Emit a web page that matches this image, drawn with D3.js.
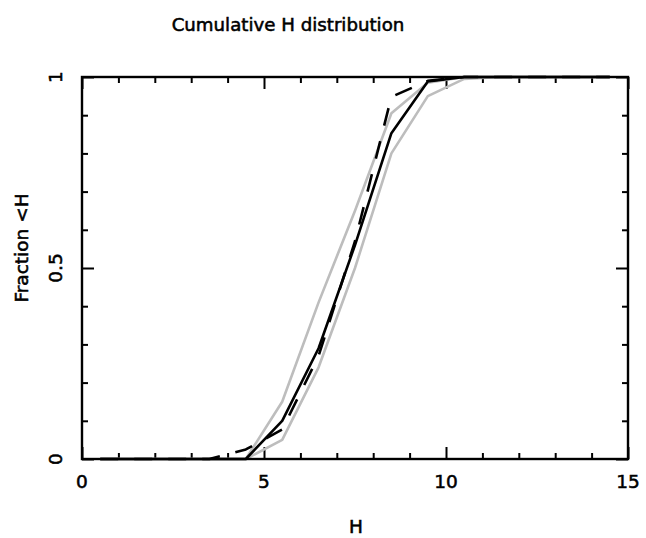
<!DOCTYPE html>
<html>
<head>
<meta charset="utf-8">
<script src="https://cdn.jsdelivr.net/npm/d3@7"></script>
<style>
  html, body { margin: 0; padding: 0; background: #fff; }
  svg { display: block; }
  text { font-family: "DejaVu Sans", sans-serif; fill: #000; stroke: #000; stroke-width: 0.55px; }
</style>
</head>
<body>
<svg id="chart" width="646" height="538"></svg>
<script>
// ---- data ----
const hValues      = [0.5, 1.5, 2.5, 3.5, 4.5, 5.5, 6.5, 7.5, 8.5, 9.5, 10.5, 11.5, 12.5, 13.5, 14.5];
const fracSolid    = [0, 0, 0, 0, 0, 0.10, 0.29, 0.56, 0.853, 0.988, 1, 1, 1, 1, 1];
const fracDashed   = [0, 0, 0, 0, 0.025, 0.077, 0.27, 0.57, 0.948, 0.99, 1, 1, 1, 1, 1];
const fracGrayLow  = [0, 0, 0, 0, 0, 0.15, 0.41, 0.65, 0.905, 0.985, 1, 1, 1, 1, 1];
const fracGrayHigh = [0, 0, 0, 0, 0, 0.05, 0.24, 0.50, 0.80, 0.95, 0.995, 1, 1, 1, 1];
const xMajorTicks  = [0, 5, 10, 15];
const yMajorTicks  = [0, 0.5, 1];
const yTickLabels  = ["0", "0.5", "1"];
const titleText    = "Cumulative H distribution";
const xLabel       = "H";
const yLabel       = "Fraction <H";

// ---- layout ----
const svg = d3.select("#chart");
const L = 82, R = 628, T = 77, B = 459;
const x = d3.scaleLinear().domain([0, 15]).range([L, R]);
const y = d3.scaleLinear().domain([0, 1]).range([B, T]);

const xMinor = d3.range(0, 16, 1).filter(v => v % 5 !== 0);
const yMinor = d3.range(1, 10).map(v => v / 10).filter(v => Math.abs(v - 0.5) > 1e-9);

function styleAxis(g) {
  g.select(".domain").remove();
  g.selectAll(".tick line").attr("stroke", "#000").attr("stroke-width", 2);
  g.selectAll(".tick text").remove();
}

// minor & major ticks, inward, on all four sides
svg.append("g").attr("transform", `translate(0,${B})`)
  .call(d3.axisBottom(x).tickValues(xMinor).tickSize(-6)).call(styleAxis);
svg.append("g").attr("transform", `translate(0,${B})`)
  .call(d3.axisBottom(x).tickValues(xMajorTicks).tickSize(-12)).call(styleAxis);
svg.append("g").attr("transform", `translate(0,${T})`)
  .call(d3.axisTop(x).tickValues(xMinor).tickSize(-6)).call(styleAxis);
svg.append("g").attr("transform", `translate(0,${T})`)
  .call(d3.axisTop(x).tickValues(xMajorTicks).tickSize(-12)).call(styleAxis);
svg.append("g").attr("transform", `translate(${L},0)`)
  .call(d3.axisLeft(y).tickValues(yMinor).tickSize(-6)).call(styleAxis);
svg.append("g").attr("transform", `translate(${L},0)`)
  .call(d3.axisLeft(y).tickValues(yMajorTicks).tickSize(-12)).call(styleAxis);
svg.append("g").attr("transform", `translate(${R},0)`)
  .call(d3.axisRight(y).tickValues(yMinor).tickSize(-6)).call(styleAxis);
svg.append("g").attr("transform", `translate(${R},0)`)
  .call(d3.axisRight(y).tickValues(yMajorTicks).tickSize(-12)).call(styleAxis);

// ---- lines ----
const line = d3.line().x((d, i) => x(hValues[i])).y(d => y(d));
function drawLine(vals, color, dash) {
  const p = svg.append("path").datum(vals)
    .attr("d", line)
    .attr("fill", "none")
    .attr("stroke", color)
    .attr("stroke-width", 2.6)
    .attr("stroke-linejoin", "round");
  if (dash) p.attr("stroke-dasharray", dash);
  return p;
}
drawLine(fracGrayLow, "#bdbdbd");
drawLine(fracGrayHigh, "#bdbdbd");
drawLine(fracDashed, "#000", "18,16");
drawLine(fracSolid, "#000");

// frame
svg.append("rect")
  .attr("x", L).attr("y", T).attr("width", R - L).attr("height", B - T)
  .attr("fill", "none").attr("stroke", "#000").attr("stroke-width", 2.4);

// ---- labels ----
svg.append("g").selectAll("text").data(xMajorTicks).join("text")
  .attr("x", d => x(d)).attr("y", 488)
  .attr("text-anchor", "middle").attr("font-size", 18.5)
  .text(d => d);

svg.append("g").selectAll("text").data(yMajorTicks).join("text")
  .attr("transform", (d) => `translate(62,${y(d)}) rotate(-90)`)
  .attr("text-anchor", "middle").attr("font-size", 18.5)
  .text((d, i) => yTickLabels[i]);

svg.append("text")
  .attr("x", 288).attr("y", 31)
  .attr("text-anchor", "middle").attr("font-size", 18.2)
  .text(titleText);

svg.append("text")
  .attr("x", 356).attr("y", 533)
  .attr("text-anchor", "middle").attr("font-size", 18.5)
  .text(xLabel);

svg.append("text")
  .attr("transform", "translate(28,248) rotate(-90)")
  .attr("text-anchor", "middle").attr("font-size", 18.5)
  .text(yLabel);
</script>
</body>
</html>
